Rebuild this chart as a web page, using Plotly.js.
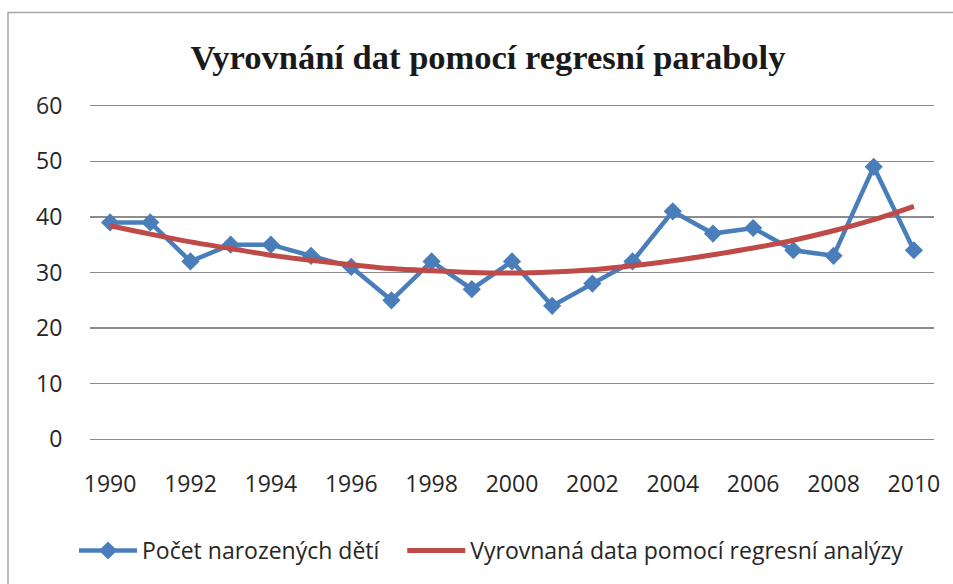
<!DOCTYPE html>
<html>
<head>
<meta charset="utf-8">
<script src="https://cdn.plot.ly/plotly-3.0.1.min.js"></script>
<style>
html,body{margin:0;padding:0;background:#fff;}
#chart{width:953px;height:584px;}
</style>
</head>
<body>
<div id="chart"></div>
<script>
const years = [1990,1991,1992,1993,1994,1995,1996,1997,1998,1999,2000,2001,2002,2003,2004,2005,2006,2007,2008,2009,2010];
const births = [39,39,32,35,35,33,31,25,32,27,32,24,28,32,41,37,38,34,33,49,34];
const fitted = [38.4,36.9,35.5,34.3,33.1,32.2,31.4,30.7,30.3,30.0,29.9,30.1,30.5,31.2,32.1,33.2,34.4,35.8,37.5,39.5,41.9];
const xTicks = [1990,1992,1994,1996,1998,2000,2002,2004,2006,2008,2010];
const yTicks = [0,10,20,30,40,50,60];
const seriesNames = ["Počet narozených dětí","Vyrovnaná data pomocí regresní analýzy"];
const titleText = "Vyrovnání dat pomocí regresní paraboly";

const tickFont = {family:"'Open Sans', 'Liberation Sans', sans-serif", size:23, color:"#262626"};

const traces = [
  {x:years, y:births, name:seriesNames[0] + "\u00a0\u00a0\u00a0", type:"scatter", mode:"lines+markers",
   line:{color:"#4A7EBB", width:4.5}, marker:{symbol:"diamond", size:14, color:"#4A7EBB"}},
  {x:years, y:fitted, name:seriesNames[1], type:"scatter", mode:"lines",
   line:{color:"#BE4B48", width:5, shape:"spline"}}
];

// pixel geometry: value 0 at y=439, 60 at y=106, plot x from 90 to 934
const pxPerUnit = (439 - 106) / 60;
const pad = 0.3;
const L = 90, R = 19;
const T = 106 - pad * pxPerUnit, B = 584 - 439 - pad * pxPerUnit;
const W = 953 - L - R, H = 584 - T - B;
const py = p => (584 - B - p) / H;   // pixel y -> paper y

const layout = {
  width:953, height:584,
  margin:{l:L, r:R, t:T, b:B, pad:0},
  paper_bgcolor:"#fff", plot_bgcolor:"#fff",
  title:{text:titleText, font:{family:"'Liberation Serif', 'Times New Roman', serif", size:34.5, color:"#1a1a1a", weight:"bold"},
         x:(488-L)/W, xref:"paper", xanchor:"center", y:1-(57/584), yref:"container", yanchor:"middle"},
  xaxis:{range:[1989.5,2010.5], tickvals:xTicks, ticktext:xTicks.map(String), showgrid:false, zeroline:false,
         showline:false, ticks:"outside", ticklen:22, tickcolor:"rgba(0,0,0,0)", tickfont:tickFont, fixedrange:true},
  yaxis:{range:[-pad,60+pad], tickvals:yTicks, showgrid:true, gridcolor:"#8c8c8c", gridwidth:1.3, zeroline:false,
         showline:false, ticks:"outside", ticklen:22, tickcolor:"rgba(0,0,0,0)", tickfont:tickFont, fixedrange:true},
  showlegend:true,
  legend:{orientation:"h", x:(74-L)/W, xanchor:"left", y:py(550), yanchor:"middle",
          font:tickFont, itemwidth:58,
          bgcolor:"rgba(0,0,0,0)", traceorder:"normal", itemclick:false},
  shapes:[{type:"rect", xref:"paper", yref:"paper", x0:(8-L)/W, x1:1.3, y0:-0.6, y1:py(13),
           line:{color:"#a6a6a6", width:1.5}, fillcolor:"rgba(0,0,0,0)", layer:"below"}]
};

Plotly.newPlot("chart", traces, layout, {displayModeBar:false, staticPlot:true});
</script>
</body>
</html>
